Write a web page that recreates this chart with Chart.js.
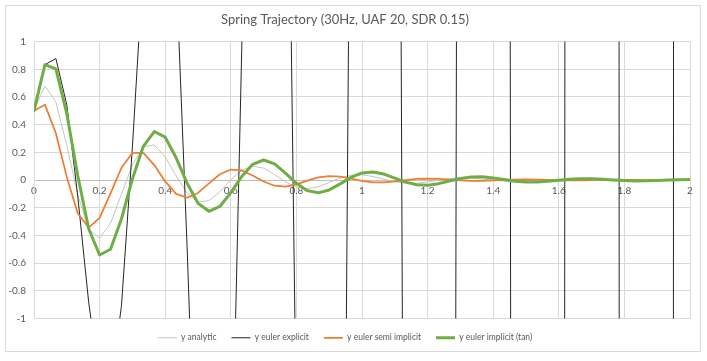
<!DOCTYPE html>
<html>
<head>
<meta charset="utf-8">
<script src="https://cdn.jsdelivr.net/npm/chart.js@4.4.0/dist/chart.umd.min.js"></script>
<style>
html,body{margin:0;padding:0;background:#fff;}
#wrap{width:707px;height:361px;position:relative;}
</style>
</head>
<body>
<div id="wrap"><canvas id="c" width="707" height="361"></canvas></div>
<script>
// time (s), sampled at 30 Hz
const timeValues = [0, 0.0333, 0.0667, 0.1, 0.1333, 0.1667, 0.2, 0.2333, 0.2667, 0.3, 0.3333, 0.3667, 0.4, 0.4333, 0.4667, 0.5, 0.5333, 0.5667, 0.6, 0.6333, 0.6667, 0.7, 0.7333, 0.7667, 0.8, 0.8333, 0.8667, 0.9, 0.9333, 0.9667, 1, 1.0333, 1.0667, 1.1, 1.1333, 1.1667, 1.2, 1.2333, 1.2667, 1.3, 1.3333, 1.3667, 1.4, 1.4333, 1.4667, 1.5, 1.5333, 1.5667, 1.6, 1.6333, 1.6667, 1.7, 1.7333, 1.7667, 1.8, 1.8333, 1.8667, 1.9, 1.9333, 1.9667, 2];

const yAnalytic = [0.5, 0.6799, 0.5634, 0.2497, -0.1047, -0.3539, -0.4204, -0.3114, -0.1029, 0.1095, 0.2401, 0.2539, 0.1666, 0.0305, -0.0928, -0.1576, -0.1497, -0.0847, 0.0010, 0.0711, 0.1007, 0.0860, 0.0405, -0.0124, -0.0509, -0.0627, -0.0479, -0.0175, 0.0145, 0.0349, 0.0381, 0.0259, 0.0059, -0.0128, -0.0232, -0.0226, -0.0134, -0.0007, 0.0100, 0.0149, 0.0131, 0.0065, -0.0014, -0.0073, -0.0093, -0.0074, -0.0029, 0.0019, 0.0051, 0.0057, 0.0040, 0.0011, -0.0018, -0.0034, -0.0034, -0.0021, -0.0002, 0.0014, 0.0022, 0.0020, 0.0010];

const yEulerExplicit = [0.5, 0.8333, 0.8778, 0.5430, -0.1150, -0.8827, -1.4458, -1.5039, -0.9078, 0.2374, 1.5571, 2.5073, 2.5755, 1.5156, -0.4769, -2.7446, -4.3467, -4.4086, -2.5263, 0.9390, 4.8340, 7.5327, 7.5432, 4.2037, -1.8204, -8.5080, -13.049, -12.9005, -6.9821, 3.4861, 14.9638, 22.5966, 22.0523, 11.574, -6.6096, -26.3005, -39.1156, -37.6787, -19.1445, 12.429, 46.1963, 67.6862, 64.3466, 31.5924, -23.2095, -81.0919, -117.0825, -109.8341, -51.999, 43.0836, 142.2603, 202.4534, 187.3816, 85.3461, -79.5621, -249.42, -349.9454, -319.5129, -139.6347, 146.2724, 437.0574];

const yEulerSemiImplicit = [0.5, 0.5444, 0.3380, 0.0227, -0.2397, -0.3431, -0.2733, -0.0960, 0.0885, 0.1968, 0.1959, 0.1082, -0.0101, -0.1002, -0.1278, -0.0930, -0.0239, 0.0421, 0.0761, 0.0695, 0.0334, -0.0104, -0.0408, -0.0470, -0.0310, -0.0045, 0.0188, 0.0290, 0.0243, 0.0098, -0.0062, -0.0162, -0.0170, -0.0101, -0.0001, 0.0080, 0.0109, 0.0084, 0.0026, -0.0031, -0.0063, -0.0061, -0.0032, 0.0006, 0.0033, 0.0040, 0.0028, 0.0006, -0.0015, -0.0024, -0.0022, -0.0010, 0.0004, 0.0013, 0.0015, 0.0009, 0.0001, -0.0006, -0.0009, -0.0007, -0.0003];

const yEulerImplicitTan = [0.5, 0.8333, 0.8025, 0.4795, 0.0328, -0.3516, -0.5417, -0.4995, -0.2794, 0.0076, 0.2439, 0.3505, 0.3095, 0.1607, -0.0228, -0.1673, -0.2257, -0.1908, -0.0911, 0.0258, 0.1136, 0.1447, 0.1171, 0.0506, -0.0235, -0.0765, -0.0924, -0.0714, -0.0275, 0.0193, 0.0512, 0.0587, 0.0433, 0.0144, -0.0150, -0.0340, -0.0372, -0.0261, -0.0072, 0.0112, 0.0224, 0.0234, 0.0156, 0.0033, -0.0082, -0.0147, -0.0147, -0.0093, -0.0013, 0.0058, 0.0096, 0.0092, 0.0054, 0.0003, -0.0041, -0.0062, -0.0057, -0.0032, 0.0001, 0.0028, 0.0040];

const seriesNames = ['y analytic', 'y euler explicit', 'y euler semi implicit', 'y euler implicit (tan)'];
const xTickLabels = ['0', '0.2', '0.4', '0.6', '0.8', '1', '1.2', '1.4', '1.6', '1.8', '2'];
const yTickLabels = ['-1', '-0.8', '-0.6', '-0.4', '-0.2', '0', '0.2', '0.4', '0.6', '0.8', '1'];
const chartTitle = 'Spring Trajectory (30Hz, UAF 20, SDR 0.15)';

function pts(arr) { return timeValues.map((t, i) => ({x: t, y: arr[i]})); }

const frame = {
  id: 'frame',
  beforeDraw(chart) {
    const ctx = chart.ctx;
    ctx.save();
    ctx.fillStyle = '#ffffff';
    ctx.fillRect(0, 0, chart.width, chart.height);
    ctx.strokeStyle = '#d9d9d9';
    ctx.lineWidth = 1;
    ctx.strokeRect(5.5, 5.5, 695, 346);
    ctx.restore();
  }
};

const common = {pointRadius: 0, pointHoverRadius: 0, tension: 0, fill: false, borderJoinStyle: 'round', borderCapStyle: 'round'};

new Chart(document.getElementById('c'), {
  type: 'line',
  data: {
    datasets: [
      Object.assign({label: seriesNames[0], data: pts(yAnalytic), borderColor: '#c4c4c4', backgroundColor: '#c4c4c4', borderWidth: 1, order: 4}, common),
      Object.assign({label: seriesNames[1], data: pts(yEulerExplicit), borderColor: '#262626', backgroundColor: '#262626', borderWidth: 1, order: 3}, common),
      Object.assign({label: seriesNames[2], data: pts(yEulerSemiImplicit), borderColor: '#ED7D31', backgroundColor: '#ED7D31', borderWidth: 1.75, order: 2}, common),
      Object.assign({label: seriesNames[3], data: pts(yEulerImplicitTan), borderColor: '#70AD47', backgroundColor: '#70AD47', borderWidth: 3, order: 1}, common)
    ]
  },
  options: {
    responsive: false,
    animation: false,
    devicePixelRatio: 1,
    layout: {padding: {left: 0, right: 17, top: 0, bottom: 9}},
    scales: {
      x: {
        type: 'linear',
        position: {y: 0},
        min: 0, max: 2,
        ticks: {
          stepSize: 0.2,
          autoSkip: false,
          maxRotation: 0,
          padding: 5,
          color: '#595959',
          font: {family: 'Lato', size: 10},
          callback: (v, i) => xTickLabels[i]
        },
        grid: {color: '#d9d9d9', drawTicks: false},
        border: {color: '#bfbfbf'},
        afterFit: (s) => { s.paddingLeft = 0; s.paddingRight = 0; }
      },
      y: {
        type: 'linear',
        min: -1, max: 1,
        ticks: {
          stepSize: 0.2,
          padding: 8,
          color: '#595959',
          font: {family: 'Lato', size: 10},
          callback: (v, i) => yTickLabels[i]
        },
        grid: {color: '#d9d9d9', drawTicks: false},
        border: {color: '#d9d9d9'},
        afterFit: (s) => { s.width = 34; s.paddingTop = 0; s.paddingBottom = 0; }
      }
    },
    plugins: {
      title: {
        display: true,
        text: chartTitle,
        color: '#595959',
        font: {family: 'Lato', size: 13, weight: 'normal'},
        padding: {top: 12, bottom: 14}
      },
      legend: {
        position: 'bottom',
        labels: {
          usePointStyle: true,
          pointStyle: 'line',
          pointStyleWidth: 19,
          boxHeight: 9,
          padding: 15,
          color: '#595959',
          font: {family: 'Lato', size: 8.5},
          sort: (a, b) => a.datasetIndex - b.datasetIndex
        }
      },
      tooltip: {enabled: false}
    }
  },
  plugins: [frame]
});
</script>
</body>
</html>
